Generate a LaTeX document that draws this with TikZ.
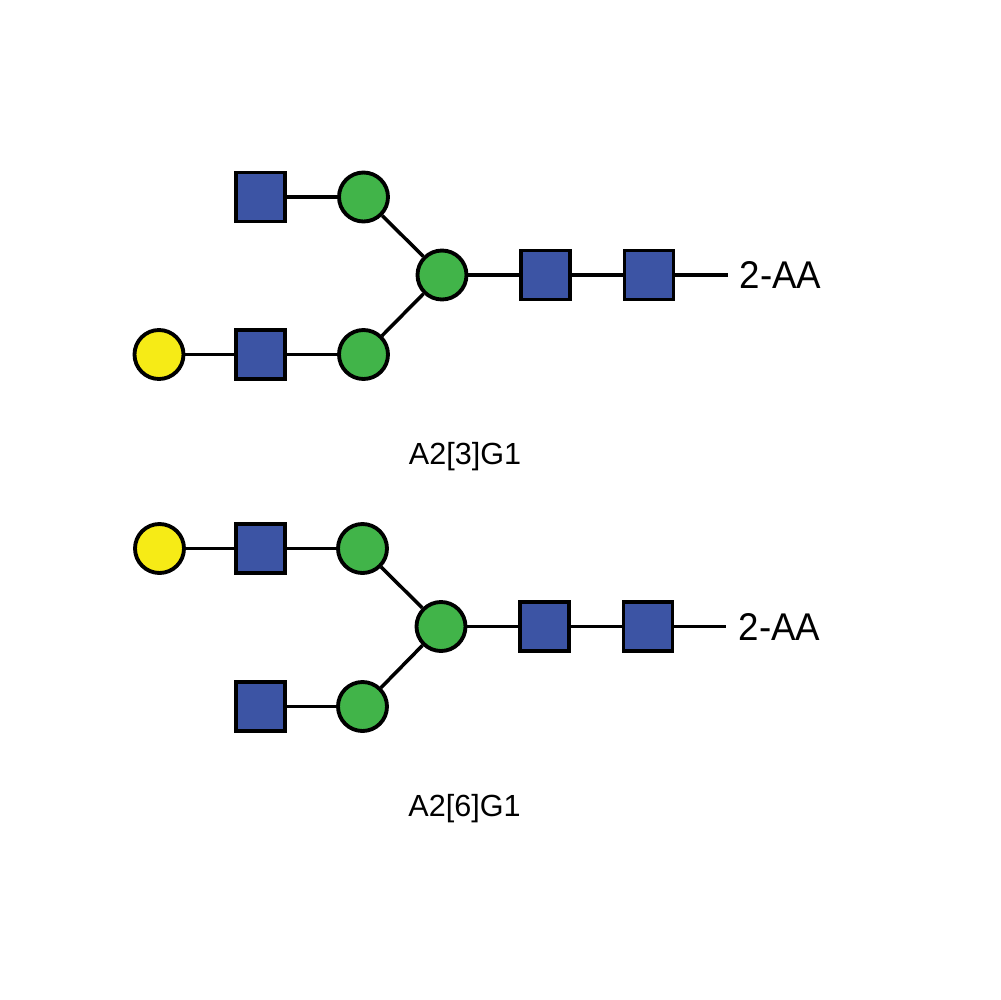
\documentclass[tikz,border=0pt]{standalone}
\usepackage{fontspec}
\setmainfont{Liberation Sans}
\definecolor{gblue}{HTML}{3C54A4}
\definecolor{ggreen}{HTML}{41B449}
\definecolor{gyellow}{HTML}{F6EB16}
\begin{document}
\begin{tikzpicture}[x=0.1mm,y=-0.1mm,
  res/.style={draw=black,line width=1.1pt,inner sep=0pt,minimum size=4.9mm},
  glcnac/.style={res,rectangle,fill=gblue},
  man/.style={res,circle,fill=ggreen},
  gal/.style={res,circle,fill=gyellow},
  link/.style={line width=1pt},
  tag/.style={font=\fontsize{11}{13}\selectfont\addfontfeature{FakeStretch=0.95},inner sep=0pt},
  lbl/.style={font=\fontsize{8.7}{10}\selectfont,inner sep=0pt}]
\useasboundingbox (0,0) rectangle (1000,1000);
% top structure
\node[glcnac] (t1) at (260.5,197) {};
\node[man] (t2) at (363.5,197) {};
\node[man] (t3) at (442,275) {};
\node[glcnac] (t4) at (545.5,275) {};
\node[glcnac] (t5) at (649,275) {};
\coordinate (t6) at (728,275);
\node[tag,anchor=west] (t7) at (739,275) {2-AA};
\node[gal] (t8) at (159,354.5) {};
\node[glcnac] (t9) at (260.5,354.5) {};
\node[man] (t10) at (363.5,354.5) {};
\draw[link] (t1) -- (t2);
\draw[link] (t2) -- (t3);
\draw[link] (t10) -- (t3);
\draw[link] (t3) -- (t4);
\draw[link] (t4) -- (t5);
\draw[link] (t5.east) -- (t6);
\draw[link] (t8) -- (t9);
\draw[link] (t9) -- (t10);
\node[lbl] (tl) at (465,457) {A2[3]G1};
% bottom structure
\node[gal] (b1) at (159.5,548.5) {};
\node[glcnac] (b2) at (260.5,548.5) {};
\node[man] (b3) at (362.5,548.5) {};
\node[man] (b4) at (441,626.5) {};
\node[glcnac] (b5) at (544.5,626.5) {};
\node[glcnac] (b6) at (648,626.5) {};
\coordinate (b7) at (726,626.5);
\node[tag,anchor=west] (b8) at (738,626.5) {2-AA};
\node[glcnac] (b9) at (260.5,706.5) {};
\node[man] (b10) at (362.5,706.5) {};
\draw[link] (b1) -- (b2);
\draw[link] (b2) -- (b3);
\draw[link] (b3) -- (b4);
\draw[link] (b10) -- (b4);
\draw[link] (b4) -- (b5);
\draw[link] (b5) -- (b6);
\draw[link] (b6.east) -- (b7);
\draw[link] (b9) -- (b10);
\node[lbl] (bl) at (464.5,809) {A2[6]G1};
\end{tikzpicture}
\end{document}
